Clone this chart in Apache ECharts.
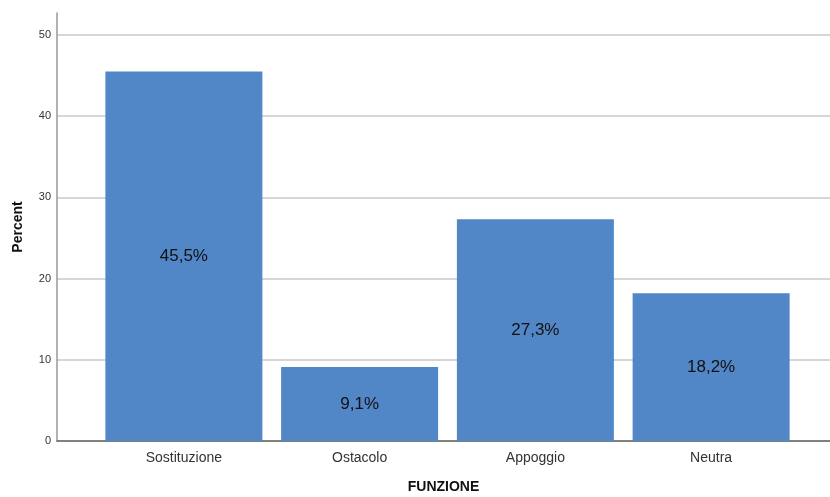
<!DOCTYPE html>
<html>
<head>
<meta charset="utf-8">
<script src="https://cdn.jsdelivr.net/npm/echarts@6/dist/echarts.min.js"></script>
<style>html,body{margin:0;padding:0;background:#fff}#c{width:830px;height:497px}</style>
</head>
<body>
<div id="c"></div>
<script>
var categories = ['Sostituzione', 'Ostacolo', 'Appoggio', 'Neutra'];
var percentValues = [45.5, 9.1, 27.3, 18.2];
var yTicks = [0, 10, 20, 30, 40, 50];

var chart = echarts.init(document.getElementById('c'), null, {renderer: 'canvas'});
var yMax = 52.7;
chart.setOption({
  animation: false,
  backgroundColor: '#ffffff',
  grid: [
    {left: 57, right: 0, top: 13, bottom: 56, containLabel: false, outerBoundsMode: 'none'},
    {left: 96, right: 31, top: 13, bottom: 56, containLabel: false, outerBoundsMode: 'none'}
  ],
  xAxis: [
    {
      gridIndex: 0, type: 'value', min: 0, max: 1,
      axisLine: {show: true, lineStyle: {color: '#666', width: 1.5}},
      axisTick: {show: false}, axisLabel: {show: false}, splitLine: {show: false},
      name: 'FUNZIONE', nameLocation: 'middle', nameGap: 39,
      nameTextStyle: {fontFamily: 'Liberation Sans', fontWeight: 'bold', fontSize: 14, color: '#111'}
    },
    {
      gridIndex: 1, type: 'category', data: categories,
      axisLine: {show: false}, axisTick: {show: false},
      axisLabel: {margin: 10, fontFamily: 'Liberation Sans', fontSize: 14, color: '#333'}
    }
  ],
  yAxis: [
    {
      gridIndex: 0, type: 'value', min: 0, max: yMax, interval: 10,
      axisLine: {show: true, lineStyle: {color: '#999', width: 1.5}},
      axisTick: {show: false},
      axisLabel: {
        margin: 6, fontFamily: 'Liberation Sans', fontSize: 11, color: '#333', showMaxLabel: false,
        formatter: function (v) { return yTicks.indexOf(v) >= 0 ? String(v) : ''; }
      },
      splitLine: {show: true, showMaxLine: false, lineStyle: {color: '#c8c8c8', width: 1.5}},
      name: 'Percent', nameLocation: 'middle', nameGap: 32, nameRotate: 90,
      nameTextStyle: {fontFamily: 'Liberation Sans', fontWeight: 'bold', fontSize: 14, color: '#111'}
    },
    {
      gridIndex: 1, type: 'value', min: 0, max: yMax, show: false
    }
  ],
  series: [{
    type: 'bar', xAxisIndex: 1, yAxisIndex: 1,
    data: percentValues,
    barWidth: 157,
    itemStyle: {color: '#5187c7'},
    label: {
      show: true, position: 'inside',
      fontFamily: 'Liberation Sans', fontSize: 17, color: '#111',
      formatter: function (p) { return p.value.toFixed(1).replace('.', ',') + '%'; }
    }
  }]
});
</script>
</body>
</html>
